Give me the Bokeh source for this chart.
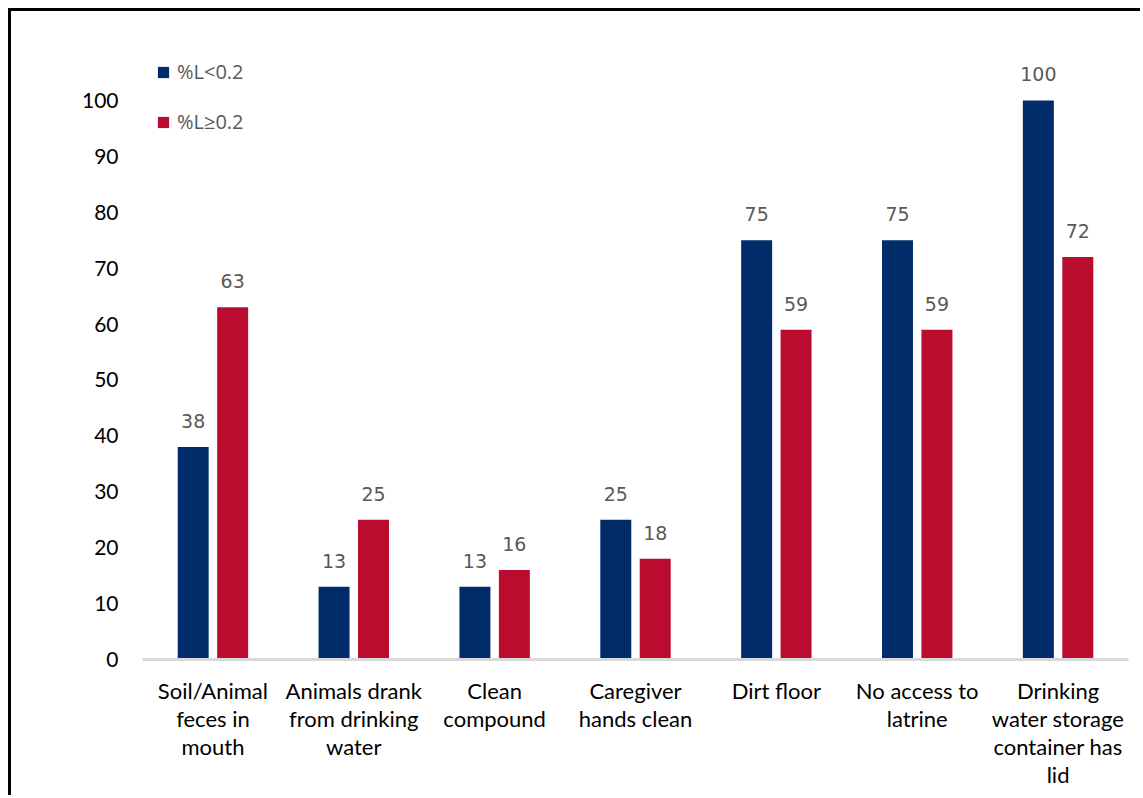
from bokeh.plotting import figure
from bokeh.models import ColumnDataSource, FactorRange, Range1d, FixedTicker, Legend, LegendItem, Label
from bokeh.core.properties import value
from bokeh.embed import file_html
from bokeh.resources import INLINE
from bokeh.transform import dodge
import math

categories = ["Soil/Animal\nfeces in\nmouth", "Animals drank\nfrom drinking\nwater", "Clean\ncompound",
              "Caregiver\nhands clean", "Dirt floor", "No access to\nlatrine",
              "Drinking\nwater storage\ncontainer has\nlid"]
low = [38, 13, 13, 25, 75, 75, 100]
high = [63, 25, 16, 18, 59, 59, 72]
series_names = ["%L<0.2", "%L\u22650.2"]
yticks = [0, 10, 20, 30, 40, 50, 60, 70, 80, 90, 100]

BLUE = "#002D6A"
RED = "#BA0C2F"

src = ColumnDataSource(dict(cat=categories, low=low, high=high,
                            low_t=[str(v) for v in low], high_t=[str(v) for v in high]))

W, H = 1132, 787
p = figure(width=W, height=H, x_range=FactorRange(factors=categories), y_range=Range1d(0, 110),
           output_backend="svg", toolbar_location=None)
p.styles = {"margin-left": "8px", "margin-top": "8px",
            "border-left": "3px solid black", "border-top": "3px solid black"}
p.min_border_left = 131
p.min_border_right = 15
p.min_border_top = 33
p.min_border_bottom = 139
p.outline_line_color = None
p.xgrid.grid_line_color = None
p.ygrid.grid_line_color = None

r1 = p.vbar(x=dodge("cat", -0.14, range=p.x_range), top="low", width=0.22, source=src,
            fill_color=BLUE, line_color=None)
r2 = p.vbar(x=dodge("cat", 0.14, range=p.x_range), top="high", width=0.22, source=src,
            fill_color=RED, line_color=None)

lab_font = value("DejaVu Sans")
p.text(x=dodge("cat", -0.14, range=p.x_range), y="low", text="low_t", source=src,
       text_align="center", text_baseline="alphabetic", y_offset=-26,
       text_font=lab_font, text_font_size="19px", text_color="#595959")
p.text(x=dodge("cat", 0.14, range=p.x_range), y="high", text="high_t", source=src,
       text_align="center", text_baseline="alphabetic", y_offset=-26,
       text_font=lab_font, text_font_size="19px", text_color="#595959")

ax = p.xaxis[0]
ax.axis_line_color = "#D9D9D9"
ax.axis_line_width = 3
ax.major_tick_line_color = None
ax.minor_tick_line_color = None
ax.major_label_text_font = "Lato"
ax.major_label_text_font_size = "22px"
ax.major_label_text_color = "#000000"
ax.major_label_text_line_height = 1.04
ax.major_label_standoff = 11

ay = p.yaxis[0]
ay.ticker = FixedTicker(ticks=yticks)
ay.axis_line_color = None
ay.major_tick_line_color = None
ay.minor_tick_line_color = None
ay.major_label_text_font = "Lato"
ay.major_label_text_font_size = "21px"
ay.major_label_text_color = "#000000"
ay.major_label_standoff = 18

p.add_layout(Label(x=-0.568, y=50, text="Percent", angle=math.pi / 2,
                   text_align="center", text_baseline="middle",
                   text_font="Lato", text_font_size="21px", text_color="#000000"))

legend = Legend(items=[LegendItem(label=series_names[0], renderers=[r1]),
                       LegendItem(label=series_names[1], renderers=[r2])],
                location="top_left", margin=14, padding=0, spacing=23,
                glyph_width=14, glyph_height=14, label_standoff=7,
                label_text_font="Open Sans", label_text_font_size="20px",
                label_text_color="#595959", background_fill_alpha=0,
                border_line_alpha=0)
p.add_layout(legend)

open("out.html", "w").write(file_html(p, INLINE))
